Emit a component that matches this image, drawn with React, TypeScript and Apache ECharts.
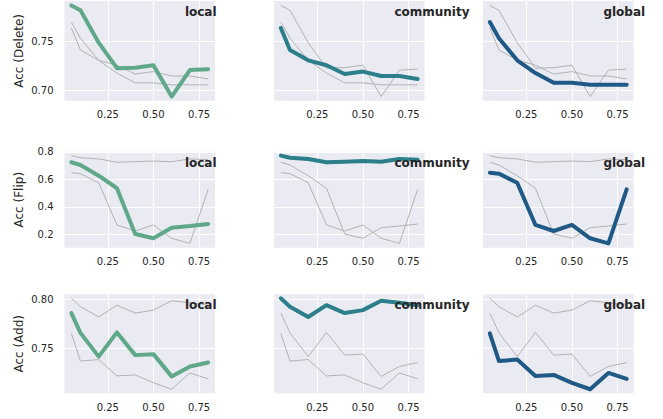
import React, { useEffect, useRef } from "react";
import * as echarts from "echarts";

// ---- data ----
const xValues = [0.05, 0.1, 0.2, 0.3, 0.4, 0.5, 0.6, 0.7, 0.8];
const methods = ["local", "community", "global"];
const metrics = ["Acc (Delete)", "Acc (Flip)", "Acc (Add)"];

const deleteLocal = [0.787, 0.782, 0.749, 0.723, 0.7235, 0.726, 0.694, 0.721, 0.722];
const deleteCommunity = [0.764, 0.7415, 0.731, 0.726, 0.717, 0.7195, 0.715, 0.715, 0.712];
const deleteGlobal = [0.77, 0.7535, 0.731, 0.718, 0.708, 0.708, 0.706, 0.706, 0.706];

const flipLocal = [0.724, 0.704, 0.626, 0.535, 0.202, 0.171, 0.248, 0.26, 0.275];
const flipCommunity = [0.772, 0.757, 0.748, 0.724, 0.728, 0.733, 0.728, 0.748, 0.743];
const flipGlobal = [0.648, 0.641, 0.575, 0.268, 0.224, 0.268, 0.171, 0.134, 0.527];

const addLocal = [0.786, 0.766, 0.742, 0.7665, 0.7435, 0.7445, 0.722, 0.732, 0.736];
const addCommunity = [0.801, 0.7925, 0.782, 0.794, 0.786, 0.789, 0.7985, 0.7965, 0.794];
const addGlobal = [0.7655, 0.7375, 0.739, 0.7225, 0.7235, 0.7155, 0.709, 0.7255, 0.7195];

const xTicks = [0.25, 0.5, 0.75];
const deleteTicks = [0.7, 0.75];
const flipTicks = [0.2, 0.4, 0.6, 0.8];
const addTicks = [0.75, 0.8];

const rowsData = [
  [deleteLocal, deleteCommunity, deleteGlobal],
  [flipLocal, flipCommunity, flipGlobal],
  [addLocal, addCommunity, addGlobal],
];
const rowTicks = [deleteTicks, flipTicks, addTicks];
const rowDecimals = [2, 1, 2];

// ---- layout / style ----
const colLeft = [64.5, 274, 483];
const panelW = 150.5;
const rowTop = [1, 151.7, 294.3];
const rowH = [99.7, 96, 99];
const rowRange = [
  [0.6898, 0.7915],
  [0.1025, 0.8007],
  [0.7049, 0.805],
];
const xRange = [0.0125, 0.8375];
const colors = ["#5fa98a", "#2b7f8a", "#1f5a86"];
const FONT = "DejaVu Sans";
const TXT = "#262626";

export default function App() {
  const ref = useRef<HTMLDivElement>(null);
  useEffect(() => {
    if (!ref.current) return;
    const chart = echarts.init(ref.current, undefined, { renderer: "svg" });
    const grid: any[] = [];
    const xAxis: any[] = [];
    const yAxis: any[] = [];
    const series: any[] = [];
    const graphic: any[] = [];
    for (let r = 0; r < 3; r++) {
      for (let c = 0; c < 3; c++) {
        const idx = r * 3 + c;
        grid.push({
          left: colLeft[c],
          top: rowTop[r],
          width: panelW,
          height: rowH[r],
          show: true,
          backgroundColor: "#EAEAF2",
          borderWidth: 0,
          containLabel: false,
        });
        xAxis.push({
          type: "value",
          gridIndex: idx,
          min: xRange[0],
          max: xRange[1],
          axisLine: { show: false },
          axisTick: { show: false, customValues: xTicks },
          axisLabel: {
            customValues: xTicks,
            formatter: (v: number) => v.toFixed(2),
            fontFamily: FONT,
            fontSize: 10,
            color: TXT,
            margin: 9,
          },
          splitLine: { show: true, lineStyle: { color: "#ffffff", width: 1 } },
        });
        yAxis.push({
          type: "value",
          gridIndex: idx,
          min: rowRange[r][0],
          max: rowRange[r][1],
          name: c === 0 ? metrics[r] : "",
          nameLocation: "middle",
          nameGap: 40,
          nameTextStyle: { fontFamily: FONT, fontSize: 12, color: TXT },
          axisLine: { show: false },
          axisTick: { show: false, customValues: rowTicks[r] },
          axisLabel: {
            show: c === 0,
            customValues: rowTicks[r],
            formatter: (v: number) => v.toFixed(rowDecimals[r]),
            fontFamily: FONT,
            fontSize: 10,
            color: TXT,
            margin: 11,
          },
          splitLine: { show: true, lineStyle: { color: "#ffffff", width: 1 } },
        });
        // gray lines first
        for (let k = 0; k < 3; k++) {
          if (k === c) continue;
          series.push({
            type: "line",
            xAxisIndex: idx,
            yAxisIndex: idx,
            data: xValues.map((x, i) => [x, rowsData[r][k][i]]),
            symbol: "none",
            lineStyle: { color: "#b3b3b3", width: 1 },
            z: 2,
          });
        }
        series.push({
          type: "line",
          xAxisIndex: idx,
          yAxisIndex: idx,
          data: xValues.map((x, i) => [x, rowsData[r][c][i]]),
          symbol: "none",
          lineStyle: { color: colors[c], width: 4, cap: "round", join: "round" },
          z: 3,
        });
        graphic.push({
          type: "text",
          x: colLeft[c] + 0.8 * panelW,
          y: rowTop[r] + 11,
          z: 100,
          style: {
            text: methods[c],
            fill: TXT,
            font: `bold 12px "${FONT}"`,
            align: "left",
            verticalAlign: "middle",
          },
        });
      }
    }
    chart.setOption({
      animation: false,
      textStyle: { fontFamily: FONT },
      grid,
      xAxis,
      yAxis,
      series,
      graphic,
    });
    return () => chart.dispose();
  }, []);
  return (
    <div
      ref={ref}
      style={{ position: "fixed", left: 0, top: 0, width: 663, height: 419, background: "#fff" }}
    />
  );
}
